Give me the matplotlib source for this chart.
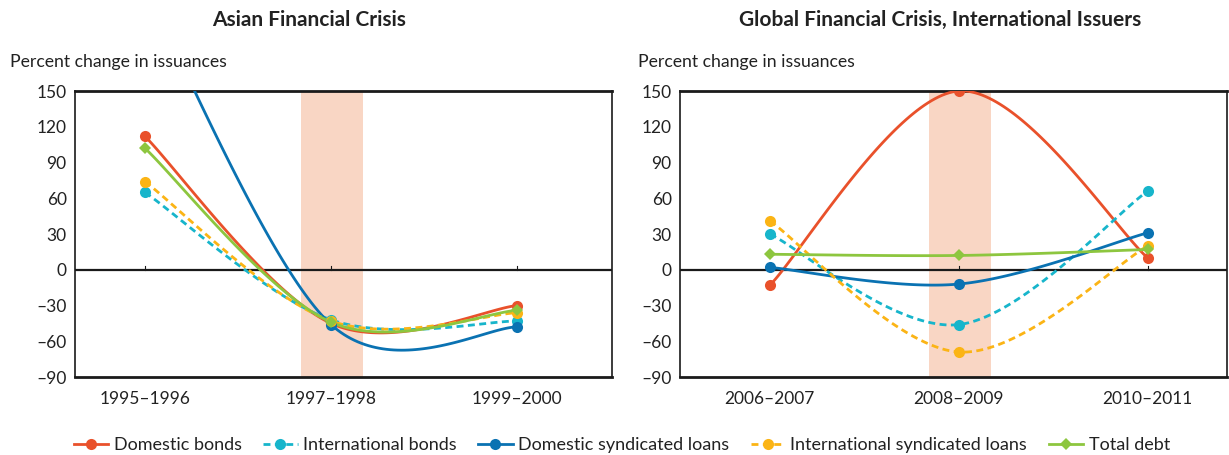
import matplotlib
matplotlib.use("Agg")
import matplotlib.pyplot as plt
import numpy as np
from matplotlib.lines import Line2D

plt.rcParams["font.family"] = ["Lato", "DejaVu Sans"]

# --- data -------------------------------------------------------------
asia_periods = ["1995\u20131996", "1997\u20131998", "1999\u20132000"]
gfc_periods = ["2006\u20132007", "2008\u20132009", "2010\u20132011"]

series_names = [
    "Domestic bonds",
    "International bonds",
    "Domestic syndicated loans",
    "International syndicated loans",
    "Total debt",
]

asia_domestic_bonds = [112, -45, -30]
asia_intl_bonds = [65, -42, -43]
asia_domestic_loans = [236, -46, -48]
asia_intl_loans = [74, -43, -36]
asia_total_debt = [102, -44, -34]

gfc_domestic_bonds = [-13, 150, 10]
gfc_intl_bonds = [30, -46, 66]
gfc_domestic_loans = [2, -12, 31]
gfc_intl_loans = [41, -69, 20]
gfc_total_debt = [13, 12, 17]

y_ticks = [150, 120, 90, 60, 30, 0, -30, -60, -90]

# --- styles -------------------------------------------------------------
colors = ["#E9512B", "#17B5CB", "#0A72B2", "#FBB415", "#8DC63F"]
styles = ["-", (0, (2.5, 1.6)), "-", (0, (2.5, 1.6)), "-"]
markers = ["o", "o", "o", "o", "D"]
msizes = [8, 8, 8, 8, 6]
band_color = "#F9D6C4"


def smooth(xs, ys, n=60):
    """Excel-like smoothed line through the points (Bezier, 1/6 tangents)."""
    pts = np.column_stack([xs, ys]).astype(float)
    out = []
    for i in range(len(pts) - 1):
        p0 = pts[max(i - 1, 0)]
        p1 = pts[i]
        p2 = pts[i + 1]
        p3 = pts[min(i + 2, len(pts) - 1)]
        c1 = p1 + (p2 - p0) / 6
        c2 = p2 - (p3 - p1) / 6
        t = np.linspace(0, 1, n)[:, None]
        seg = ((1 - t) ** 3 * p1 + 3 * (1 - t) ** 2 * t * c1
               + 3 * (1 - t) * t ** 2 * c2 + t ** 3 * p2)
        out.append(seg if i == 0 else seg[1:])
    return np.vstack(out)


def draw_panel(ax, periods, data, xlim):
    x = np.arange(len(periods))
    ax.axvspan(0.84, 1.17, color=band_color, lw=0, zorder=0)
    ax.axhline(0, color="#1a1a1a", lw=1.6, zorder=1)
    for k in x:
        ax.plot([k, k], [0, 3.5], color="#1a1a1a", lw=0.8, zorder=1)
    for vals, c, ls, m, ms in zip(data, colors, styles, markers, msizes):
        curve = smooth(x, vals)
        ax.plot(curve[:, 0], curve[:, 1], color=c, lw=2, ls=ls, zorder=3)
        ax.plot(x, vals, ls="none", marker=m, color=c, ms=ms,
                markeredgewidth=0, zorder=4)

    ax.set_xlim(*xlim)
    ax.set_ylim(-90, 150)
    ax.set_yticks(y_ticks)
    ax.set_yticklabels([str(v).replace("-", "\u2013") for v in y_ticks])
    ax.set_xticks(x)
    ax.set_xticklabels(periods)
    ax.tick_params(axis="both", length=0, labelsize=12.5, colors="#222222")
    ax.tick_params(axis="y", pad=6)
    ax.tick_params(axis="x", pad=10)
    for side in ["top", "bottom"]:
        ax.spines[side].set_linewidth(2)
        ax.spines[side].set_color("#1a1a1a")
    for side in ["left", "right"]:
        ax.spines[side].set_linewidth(1.2)
        ax.spines[side].set_color("#1a1a1a")


fig = plt.figure(figsize=(12.29, 4.55), dpi=100)
ax1 = fig.add_axes([0.0610, 0.1714, 0.437, 0.6286])
ax2 = fig.add_axes([0.5533, 0.1714, 0.445, 0.6286])

draw_panel(ax1, asia_periods,
           [asia_domestic_bonds, asia_intl_bonds, asia_domestic_loans,
            asia_intl_loans, asia_total_debt],
           (-0.376, 2.51))
draw_panel(ax2, gfc_periods,
           [gfc_domestic_bonds, gfc_intl_bonds, gfc_domestic_loans,
            gfc_intl_loans, gfc_total_debt],
           (-0.476, 2.42))

fig.text(309 / 1229, 1 - 20 / 455, "Asian Financial Crisis", ha="center",
         va="center", fontsize=15, fontweight="bold", color="#222222")
fig.text(940 / 1229, 1 - 20 / 455,
         "Global Financial Crisis, International Issuers", ha="center",
         va="center", fontsize=15, fontweight="bold", color="#222222")
fig.text(10 / 1229, 1 - 62 / 455, "Percent change in issuances",
         ha="left", va="center", fontsize=12.7, color="#222222")
fig.text(638 / 1229, 1 - 62 / 455, "Percent change in issuances",
         ha="left", va="center", fontsize=12.7, color="#222222")

handles = [
    Line2D([], [], color=c, lw=2, ls=ls, marker=m, ms=ms, markeredgewidth=0)
    for c, ls, m, ms in zip(colors, styles, markers, msizes)
]
fig.legend(handles, series_names, loc="center", ncol=5,
           bbox_to_anchor=(0.506, 1 - 445 / 455), frameon=False,
           fontsize=13, handlelength=1.9, handletextpad=0.3,
           columnspacing=1.2, labelcolor="#222222")

fig.savefig("out.png", dpi=100)
